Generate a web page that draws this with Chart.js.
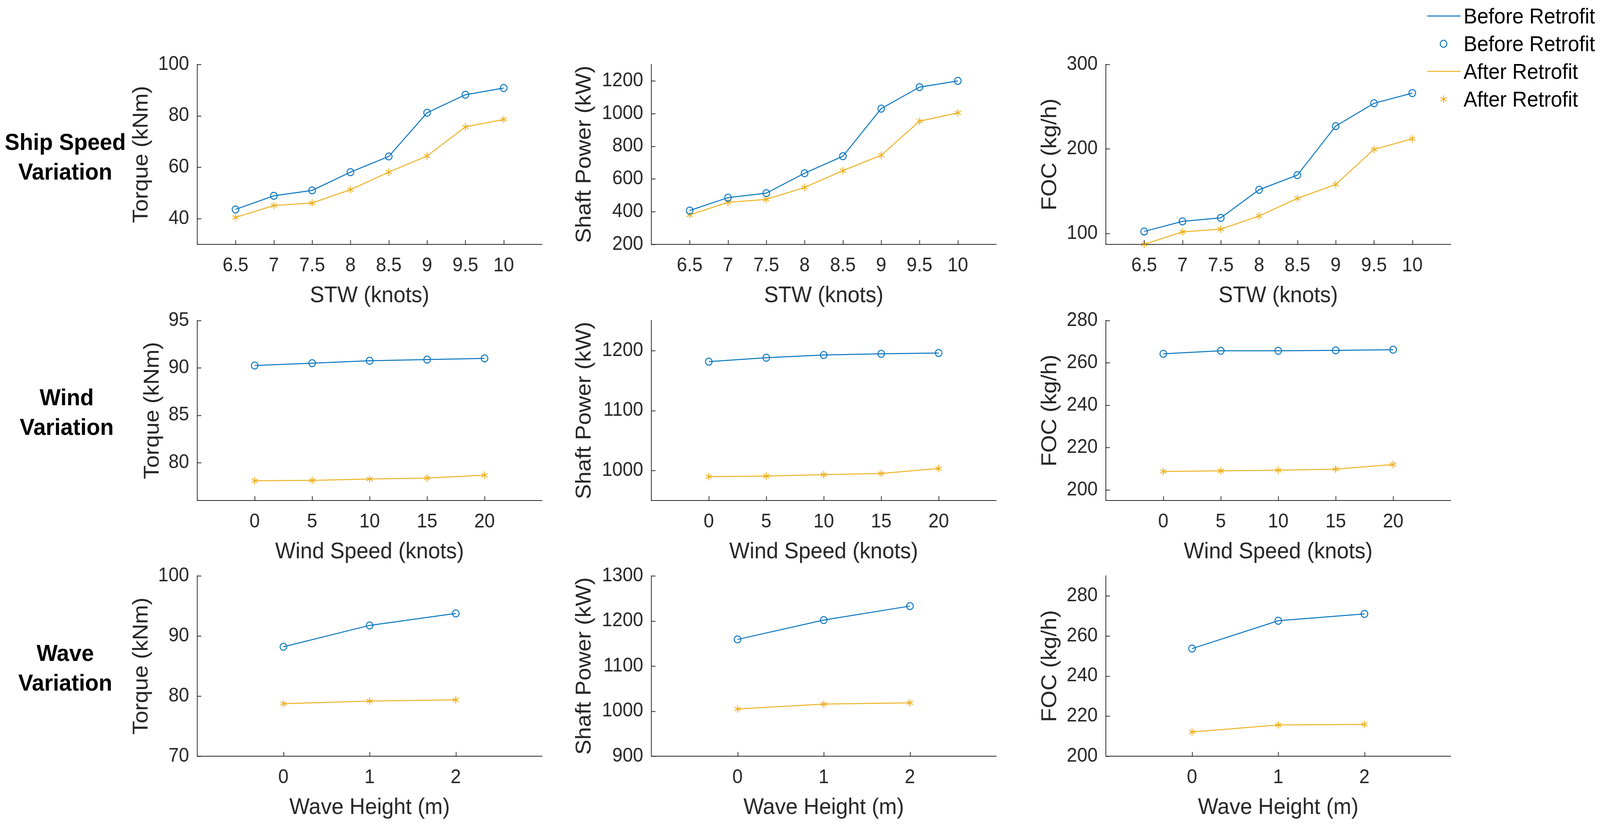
<!DOCTYPE html>
<html>
<head>
<meta charset="utf-8">
<script src="https://cdn.jsdelivr.net/npm/chart.js@4/dist/chart.umd.min.js"></script>
<style>
  html, body { margin: 0; padding: 0; background: #fff; overflow: hidden; }
  body { font-family: "Liberation Sans", Arial, Helvetica, sans-serif; }
  #stage { position: absolute; left: 0; top: 0; width: 4316px; height: 2126px; transform-origin: 0 0; }
  #stage canvas { position: absolute; }
  .rowlabel { position: absolute; width: 400px; text-align: center; font-weight: bold; font-size: 60px; line-height: 76px; color: #000; }
  #legend { position: absolute; left: 3850px; top: 5px; width: 466px; font-size: 55px; color: #000; white-space: nowrap; }
  #legend .item { height: 71px; display: flex; align-items: center; }
  #legend svg { width: 90px; height: 40px; margin-right: 8px; flex: none; }
</style>
</head>
<body>
<div id="stage">
  <div class="rowlabel" style="left:-24px; top:326px;">Ship Speed<br>Variation</div>
  <div class="rowlabel" style="left:-20px; top:980px;">Wind<br>Variation</div>
  <div class="rowlabel" style="left:-24px; top:1635px;">Wave<br>Variation</div>
  <div id="legend"></div>
</div>
<script>
// x categories
const stwKnots = [6.5, 7, 7.5, 8, 8.5, 9, 9.5, 10];
const windKnots = [0, 5, 10, 15, 20];
const waveHeight = [0, 1, 2];

// ship speed variation
const torqueStwBefore = [43.6, 48.9, 51.0, 58.1, 64.2, 81.2, 88.2, 90.8];
const torqueStwAfter  = [40.5, 45.1, 46.1, 51.3, 58.1, 64.4, 75.7, 78.6];
const powerStwBefore  = [407, 486, 513, 635, 739, 1030, 1161, 1199];
const powerStwAfter   = [380, 457, 475, 548, 651, 745, 953, 1004];
const focStwBefore    = [102.3, 114.3, 118.4, 151.7, 169, 227, 254, 266];
const focStwAfter     = [87.1, 101.8, 105, 120.7, 141.4, 158, 199.5, 212];

// wind variation
const torqueWindBefore = [90.25, 90.5, 90.75, 90.88, 91.0];
const torqueWindAfter  = [78.09, 78.12, 78.27, 78.37, 78.67];
const powerWindBefore  = [1181.5, 1188, 1192.6, 1194.5, 1195.9];
const powerWindAfter   = [989.8, 990.6, 993.1, 995, 1003.3];
const focWindBefore    = [264.3, 265.7, 265.7, 265.9, 266.2];
const focWindAfter     = [208.7, 209.0, 209.3, 209.8, 212.0];

// wave variation
const torqueWaveBefore = [88.2, 91.76, 93.75];
const torqueWaveAfter  = [78.74, 79.18, 79.38];
const powerWaveBefore  = [1159, 1202, 1233];
const powerWaveAfter   = [1004.7, 1015.6, 1018.4];
const focWaveBefore    = [253.7, 267.6, 271.0];
const focWaveAfter     = [212.1, 215.6, 215.9];

// y tick labels
const torqueStwTicks = [40, 60, 80, 100];
const powerStwTicks  = [200, 400, 600, 800, 1000, 1200];
const focStwTicks    = [100, 200, 300];
const torqueWindTicks = [80, 85, 90, 95];
const powerWindTicks  = [1000, 1100, 1200];
const focWindTicks    = [200, 220, 240, 260, 280];
const torqueWaveTicks = [70, 80, 90, 100];
const powerWaveTicks  = [900, 1000, 1100, 1200, 1300];
const focWaveTicks    = [200, 220, 240, 260, 280];

const seriesNames = ['Before Retrofit', 'After Retrofit'];
const BLUE = '#0072BD';
const ORANGE = '#EDB120';
const AXIS = '#262626';
const FONT = '"Liberation Sans", Arial, Helvetica, sans-serif';

Chart.defaults.font.family = FONT;
Chart.defaults.color = AXIS;

// the window may be narrower than the figure, squeeze the stage to fit
const stage = document.getElementById('stage');
stage.style.transform = `scale(${window.innerWidth / 4316}, ${window.innerHeight / 2126})`;

// asterisk marker like matlab '*'
function makeAsterisk(color) {
  const c = document.createElement('canvas');
  c.width = 24; c.height = 24;
  const g = c.getContext('2d');
  g.strokeStyle = color; g.lineWidth = 2.5;
  g.beginPath();
  for (let k = 0; k < 3; k++) {
    const a = Math.PI / 2 + k * Math.PI / 3;
    g.moveTo(12 + 9.5 * Math.cos(a), 12 + 9.5 * Math.sin(a));
    g.lineTo(12 - 9.5 * Math.cos(a), 12 - 9.5 * Math.sin(a));
  }
  g.stroke();
  return c;
}
const asterisk = makeAsterisk(ORANGE);

// inward tick marks
const innerTicks = {
  id: 'innerTicks',
  afterDatasetsDraw(chart) {
    const {ctx, chartArea: a, scales: {x, y}} = chart;
    ctx.save();
    ctx.strokeStyle = AXIS;
    ctx.lineWidth = 2;
    ctx.beginPath();
    x.ticks.forEach(t => {
      const px = Math.round(x.getPixelForValue(t.value)) + 0.5;
      ctx.moveTo(px, a.bottom); ctx.lineTo(px, a.bottom - 11);
    });
    y.ticks.forEach(t => {
      const py = Math.round(y.getPixelForValue(t.value)) + 0.5;
      ctx.moveTo(a.left, py); ctx.lineTo(a.left + 11, py);
    });
    ctx.stroke();
    ctx.restore();
  }
};

const colLeft = [532, 1757, 2983];
const plotW = 930;
const rowTop = [153, 809, 1463];
const plotH = [473, 473, 474];
const LW = 260, TP = 40, RP = 40, BH = 180;

function makeChart(row, col, xs, before, after, xMin, xMax, yMin, yMax, yTicks, xTitle, yTitle) {
  const cv = document.createElement('canvas');
  const w = LW + plotW + RP, h = TP + plotH[row] + BH;
  cv.width = w; cv.height = h;
  cv.style.left = (colLeft[col] - LW) + 'px';
  cv.style.top = (rowTop[row] - TP) + 'px';
  cv.style.width = w + 'px'; cv.style.height = h + 'px';
  stage.appendChild(cv);

  const maxLen = Math.max(...yTicks.map(v => String(v).length));
  const yTitleOffset = 60 + 30 * maxLen;
  const titleLH = 58 * 1.2;

  new Chart(cv, {
    type: 'line',
    data: {
      datasets: [
        {
          label: seriesNames[0],
          data: xs.map((v, i) => ({x: v, y: before[i]})),
          borderColor: BLUE, borderWidth: 2.5,
          pointStyle: 'circle', pointRadius: 9, pointBorderWidth: 2.5,
          pointBorderColor: BLUE, pointBackgroundColor: 'rgba(0,0,0,0)',
          clip: false
        },
        {
          label: seriesNames[1],
          data: xs.map((v, i) => ({x: v, y: after[i]})),
          borderColor: ORANGE, borderWidth: 2.5,
          pointStyle: asterisk, pointRadius: 10,
          clip: false
        }
      ]
    },
    options: {
      responsive: false,
      animation: false,
      devicePixelRatio: 1,
      layout: { padding: { top: TP, right: RP, left: 0, bottom: 0 } },
      plugins: { legend: { display: false }, tooltip: { enabled: false } },
      scales: {
        x: {
          type: 'linear', min: xMin, max: xMax,
          afterBuildTicks: s => { s.ticks = xs.map(v => ({value: v})); },
          afterFit: s => { s.height = BH; },
          grid: { display: false, drawTicks: false },
          border: { display: true, color: AXIS, width: 2 },
          ticks: { autoSkip: false, maxRotation: 0, padding: 25, font: { size: 50 }, color: AXIS,
                   callback: v => String(v) },
          title: { display: true, text: xTitle, font: { size: 58 }, color: AXIS,
                   padding: { top: 0, bottom: BH - 132 - titleLH / 2 } }
        },
        y: {
          type: 'linear', min: yMin, max: yMax,
          afterBuildTicks: s => { s.ticks = yTicks.map(v => ({value: v})); },
          afterFit: s => { s.width = LW; },
          grid: { display: false, drawTicks: false },
          border: { display: true, color: AXIS, width: 2 },
          ticks: { padding: 22, font: { size: 50 }, color: AXIS, callback: v => String(v) },
          title: { display: true, text: yTitle, font: { size: 58 }, color: AXIS,
                   padding: { top: LW - yTitleOffset - titleLH / 2, bottom: 0 } }
        }
      }
    },
    plugins: [innerTicks]
  });
}

makeChart(0, 0, stwKnots, torqueStwBefore, torqueStwAfter, 6, 10.5, 30, 100, torqueStwTicks, 'STW (knots)', 'Torque (kNm)');
makeChart(0, 1, stwKnots, powerStwBefore, powerStwAfter, 6, 10.5, 200, 1300, powerStwTicks, 'STW (knots)', 'Shaft Power (kW)');
makeChart(0, 2, stwKnots, focStwBefore, focStwAfter, 6, 10.5, 87, 300, focStwTicks, 'STW (knots)', 'FOC (kg/h)');

makeChart(1, 0, windKnots, torqueWindBefore, torqueWindAfter, -5, 25, 76, 95, torqueWindTicks, 'Wind Speed (knots)', 'Torque (kNm)');
makeChart(1, 1, windKnots, powerWindBefore, powerWindAfter, -5, 25, 950, 1250, powerWindTicks, 'Wind Speed (knots)', 'Shaft Power (kW)');
makeChart(1, 2, windKnots, focWindBefore, focWindAfter, -5, 25, 195, 280, focWindTicks, 'Wind Speed (knots)', 'FOC (kg/h)');

makeChart(2, 0, waveHeight, torqueWaveBefore, torqueWaveAfter, -1, 3, 70, 100, torqueWaveTicks, 'Wave Height (m)', 'Torque (kNm)');
makeChart(2, 1, waveHeight, powerWaveBefore, powerWaveAfter, -1, 3, 900, 1300, powerWaveTicks, 'Wave Height (m)', 'Shaft Power (kW)');
makeChart(2, 2, waveHeight, focWaveBefore, focWaveAfter, -1, 3, 200, 290, focWaveTicks, 'Wave Height (m)', 'FOC (kg/h)');

// legend: line entry and marker entry for each series (matlab style)
const legendEntries = [
  { name: seriesNames[0], color: BLUE, kind: 'line' },
  { name: seriesNames[0], color: BLUE, kind: 'circle' },
  { name: seriesNames[1], color: ORANGE, kind: 'line' },
  { name: seriesNames[1], color: ORANGE, kind: 'star' }
];
const lg = document.getElementById('legend');
legendEntries.forEach(e => {
  let sym = '';
  if (e.kind === 'line') sym = `<line x1="0" y1="20" x2="90" y2="20" stroke="${e.color}" stroke-width="2.5"/>`;
  if (e.kind === 'circle') sym = `<circle cx="44" cy="20" r="9" fill="none" stroke="${e.color}" stroke-width="2.5"/>`;
  if (e.kind === 'star') {
    for (let k = 0; k < 3; k++) {
      const a = Math.PI / 2 + k * Math.PI / 3;
      const dx = 9.5 * Math.cos(a), dy = 9.5 * Math.sin(a);
      sym += `<line x1="${44 + dx}" y1="${20 + dy}" x2="${44 - dx}" y2="${20 - dy}" stroke="${e.color}" stroke-width="2.5"/>`;
    }
  }
  const d = document.createElement('div');
  d.className = 'item';
  d.innerHTML = `<svg viewBox="0 0 90 40">${sym}</svg><span>${e.name}</span>`;
  lg.appendChild(d);
});
</script>
</body>
</html>
